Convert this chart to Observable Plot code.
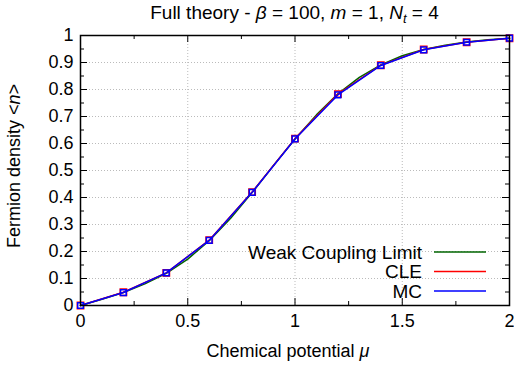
<!DOCTYPE html>
<html>
<head>
<meta charset="utf-8">
<script src="https://cdn.jsdelivr.net/npm/d3@7"></script>
<script src="https://cdn.jsdelivr.net/npm/@observablehq/plot@0.6"></script>
<style>
  body { margin: 0; background: #fff; }
  #wrap { position: relative; width: 514px; height: 367px; font-family: "Liberation Sans", Arial, sans-serif; color: #000; }
  #title { position: absolute; left: 80px; width: 429px; top: 2px; text-align: center; font-size: 19px; line-height: 22px; white-space: nowrap; }
  sub { font-size: 13px; vertical-align: -4px; line-height: 0; }
</style>
</head>
<body>
<div id="wrap">
  <div id="chart"></div>
  <div id="title">Full theory - <i>β</i> = 100, <i>m</i> = 1, <i>N<sub>t</sub></i> = 4</div>
</div>
<script>
// Data
const mu = [0, 0.2, 0.4, 0.6, 0.8, 1.0, 1.2, 1.4, 1.6, 1.8, 2.0];
const mcDensity = [0.0, 0.048, 0.121, 0.241, 0.419, 0.617, 0.780, 0.889, 0.947, 0.975, 0.990];
const cleDensity = [0.0, 0.049, 0.121, 0.242, 0.420, 0.618, 0.783, 0.890, 0.948, 0.975, 0.990];
const wclMu = [0, 0.1, 0.2, 0.3, 0.4, 0.5, 0.6, 0.7, 0.8, 0.9, 1.0, 1.1, 1.2, 1.3, 1.4, 1.5, 1.6, 1.7, 1.8, 1.9, 2.0];
const wclDensity = [0.0, 0.023, 0.048, 0.080, 0.119, 0.172, 0.240, 0.323, 0.418, 0.519, 0.617, 0.706, 0.784, 0.845, 0.891, 0.925, 0.948, 0.964, 0.976, 0.984, 0.990];
const seriesNames = ["Weak Coupling Limit", "CLE", "MC"];
const seriesColors = ["#006400", "#ff0000", "#0000ff"];
const xTicks = [0, 0.5, 1, 1.5, 2];
const xTickLabels = ["0", "0.5", "1", "1.5", "2"];
const xMinor = [0.25, 0.75, 1.25, 1.75];
const yTicks = [0, 0.1, 0.2, 0.3, 0.4, 0.5, 0.6, 0.7, 0.8, 0.9, 1];
const yTickLabels = ["0", "0.1", "0.2", "0.3", "0.4", "0.5", "0.6", "0.7", "0.8", "0.9", "1"];
const yMinor = [0.05, 0.15, 0.25, 0.35, 0.45, 0.55, 0.65, 0.75, 0.85, 0.95];

const mcData = mu.map((x, i) => ({x, y: mcDensity[i]}));
const cleData = mu.map((x, i) => ({x, y: cleDensity[i]}));
const wclData = wclMu.map((x, i) => ({x, y: wclDensity[i]}));

const W = 514, H = 367, mL = 80, mR = 5, mT = 35, mB = 62;
const pw = W - mL - mR, ph = H - mT - mB;

const chart = Plot.plot({
  width: W, height: H,
  marginLeft: mL, marginRight: mR, marginTop: mT, marginBottom: mB,
  style: {fontFamily: "Liberation Sans, Arial, sans-serif", fontSize: "18px", color: "#000", background: "#fff", overflow: "visible"},
  x: {domain: [0, 2]},
  y: {domain: [0, 1]},
  marks: [
    // grid
    Plot.ruleX(xTicks.slice(1, -1), {x: d => d, stroke: "#bbb", strokeDasharray: "1,2", strokeWidth: 1}),
    Plot.ruleY(yTicks.slice(1, -1), {y: d => d, stroke: "#bbb", strokeDasharray: "1,2", strokeWidth: 1}),
    // inward ticks
    Plot.tickY(yTicks, {y: d => d, insetRight: pw - 7, stroke: "#000", strokeWidth: 1}),
    Plot.tickY(yTicks, {y: d => d, insetLeft: pw - 7, stroke: "#000", strokeWidth: 1}),
    Plot.tickY(yMinor, {y: d => d, insetRight: pw - 4, stroke: "#000", strokeWidth: 1}),
    Plot.tickY(yMinor, {y: d => d, insetLeft: pw - 4, stroke: "#000", strokeWidth: 1}),
    Plot.tickX(xTicks, {x: d => d, insetTop: ph - 7, stroke: "#000", strokeWidth: 1}),
    Plot.tickX(xTicks, {x: d => d, insetBottom: ph - 7, stroke: "#000", strokeWidth: 1}),
    Plot.tickX(xMinor, {x: d => d, insetTop: ph - 4, stroke: "#000", strokeWidth: 1}),
    Plot.tickX(xMinor, {x: d => d, insetBottom: ph - 4, stroke: "#000", strokeWidth: 1}),
    // axes labels
    Plot.axisX({ticks: xTicks, tickFormat: (d, i) => xTickLabels[i], tickSize: 0, tickPadding: 9, label: null, fontSize: 18}),
    Plot.axisY({ticks: yTicks, tickFormat: (d, i) => yTickLabels[i], tickSize: 0, tickPadding: 7, label: null, fontSize: 18}),
    // series
    Plot.line(wclData, {x: "x", y: "y", stroke: seriesColors[0], strokeWidth: 1.5}),
    Plot.line(cleData, {x: "x", y: "y", stroke: seriesColors[1], strokeWidth: 1.5}),
    Plot.dot(cleData, {x: "x", y: "y", symbol: "square", r: 3.6, stroke: seriesColors[1], strokeWidth: 1.5, fill: "none"}),
    Plot.line(mcData, {x: "x", y: "y", stroke: seriesColors[2], strokeWidth: 1.5}),
    Plot.dot(mcData, {x: "x", y: "y", symbol: "square", r: 3.2, stroke: seriesColors[2], strokeWidth: 1.5, fill: "none"}),
    Plot.frame({stroke: "#000", strokeWidth: 1.5})
  ]
});
document.getElementById("chart").appendChild(chart);

// Axis titles with italic parts
const svg = d3.select(chart);
const xl = svg.append("text")
  .attr("x", 288).attr("y", 357)
  .attr("text-anchor", "middle").attr("font-size", 18).attr("fill", "#000");
xl.append("tspan").text("Chemical potential ");
xl.append("tspan").attr("font-style", "italic").text("μ");

const yl = svg.append("text")
  .attr("transform", `translate(20,166) rotate(-90)`)
  .attr("text-anchor", "middle").attr("font-size", 18).attr("fill", "#000");
yl.append("tspan").text("Fermion density <");
yl.append("tspan").attr("font-style", "italic").text("n");
yl.append("tspan").text(">");

// Legend (inside plot, lower right)
const lg = svg.append("g").attr("font-size", 19).attr("fill", "#000");
seriesNames.forEach((name, i) => {
  const cy = 252 + i * 19.5;
  lg.append("text").attr("x", 422).attr("y", cy + 6.5).attr("text-anchor", "end").text(name);
  lg.append("line").attr("x1", 434).attr("x2", 486).attr("y1", cy).attr("y2", cy)
    .attr("stroke", seriesColors[i]).attr("stroke-width", 1.5);
});
</script>
</body>
</html>
